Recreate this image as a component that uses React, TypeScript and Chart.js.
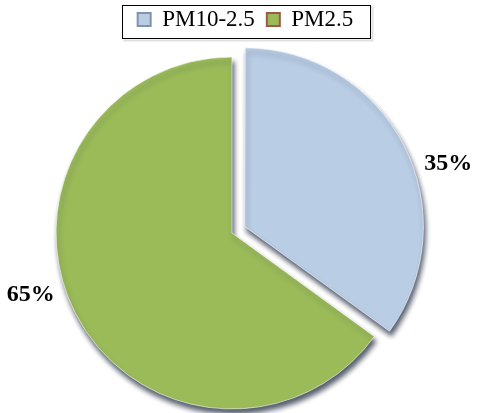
import React, { useEffect, useRef } from "react";
import { Chart, registerables } from "chart.js";
Chart.register(...registerables);

const categories = ["PM10-2.5", "PM2.5"];
const shares = [35, 65];
const percentLabels = ["35%", "65%"];

const fillColors = ["#B9CDE5", "#9BBB59"];
const markerBorders = ["#7F93AE", "#9C5A4C"];
const explode = [57, 0];

const SERIF = "'Liberation Serif', 'Times New Roman', serif";
const PIE_CENTER_X = 232;
const PIE_CENTER_Y = 233;

// Chart.js v4 arc: effective translation of an exploded slice
function arcShift(offset: number, circumference: number) {
  const o = (offset || 0) / 4;
  const fix = 1 - Math.sin(Math.min(Math.PI, circumference || 0));
  return o + o * fix;
}

export default function App() {
  const ref = useRef<HTMLCanvasElement>(null);

  useEffect(() => {
    let chart: any = null;
    let cancelled = false;

    const centerPlugin = {
      id: "pieCenter",
      afterLayout(c: any) {
        const a = c.chartArea;
        const w = a.right - a.left;
        const h = a.bottom - a.top;
        a.left = PIE_CENTER_X - w / 2;
        a.right = PIE_CENTER_X + w / 2;
        a.top = PIE_CENTER_Y - h / 2;
        a.bottom = PIE_CENTER_Y + h / 2;
      },
    };

    const shadowPlugin = {
      id: "sliceShadow",
      beforeDatasetsDraw(c: any) {
        const ctx = c.ctx;
        ctx.save();
        ctx.shadowColor = "rgba(30,40,60,0.75)";
        ctx.shadowOffsetX = 2;
        ctx.shadowOffsetY = 5;
        ctx.shadowBlur = 5;
      },
      afterDatasetsDraw(c: any) {
        c.ctx.restore();
      },
    };

    const labelPlugin = {
      id: "pctLabels",
      afterDatasetsDraw(c: any) {
        const ctx = c.ctx;
        const meta = c.getDatasetMeta(0);
        ctx.save();
        ctx.font = `bold 24px ${SERIF}`;
        ctx.fillStyle = "#000";
        ctx.textAlign = "center";
        ctx.textBaseline = "middle";
        meta.data.forEach((arc: any, i: number) => {
          const p = arc.getProps(["x", "y", "startAngle", "endAngle", "outerRadius", "circumference"], true);
          const mid = (p.startAngle + p.endAngle) / 2;
          const sh = arcShift(arc.options.offset, p.circumference);
          const cx = p.x + Math.cos(mid) * sh;
          const cy = p.y + Math.sin(mid) * sh;
          const a = mid + (10 * Math.PI) / 180;
          const d = p.outerRadius * 1.19 + 1;
          ctx.fillText(percentLabels[i], cx + Math.cos(a) * d, cy + Math.sin(a) * d);
        });
        ctx.restore();
      },
    };

    const legendBoxPlugin = {
      id: "legendBox",
      afterDraw(c: any) {
        const boxes = c.legend?.legendHitBoxes;
        if (!boxes || !boxes.length) return;
        const first = boxes[0];
        const last = boxes[boxes.length - 1];
        const l = Math.round(first.left - 16) + 0.5;
        const r = Math.round(last.left + last.width + 17) + 0.5;
        const t = Math.round(first.top - 3) + 0.5;
        const b = Math.round(first.top + first.height + 7) + 0.5;
        const ctx = c.ctx;
        ctx.save();
        ctx.strokeStyle = "rgba(0,0,0,0.12)";
        ctx.lineWidth = 2;
        ctx.strokeRect(l + 2, t + 2, r - l, b - t);
        ctx.strokeStyle = "#000";
        ctx.lineWidth = 1;
        ctx.fillStyle = "#fff";
        ctx.fillRect(l, t, r - l, b - t);
        ctx.strokeRect(l, t, r - l, b - t);
        ctx.restore();
        c.legend.draw();
      },
    };

    const build = () => {
      if (cancelled || !ref.current) return;
      chart = new Chart(ref.current, {
        type: "pie",
        data: {
          labels: categories,
          datasets: [
            {
              data: shares,
              backgroundColor: fillColors,
              borderColor: "rgba(255,255,255,0.6)",
              borderWidth: 1,
              offset: explode,
            },
          ],
        },
        options: {
          animation: false,
          responsive: false,
          radius: 176,
          layout: { padding: { top: -4, right: 0, bottom: 0, left: 14 } },
          plugins: {
            legend: {
              display: true,
              position: "top",
              labels: {
                boxWidth: 13,
                boxHeight: 13,
                padding: 12,
                color: "#000",
                font: { family: SERIF, size: 23 },
                generateLabels: () =>
                  categories.map((cat, i) => ({
                    text: cat,
                    fillStyle: fillColors[i],
                    strokeStyle: markerBorders[i],
                    lineWidth: 2,
                    hidden: false,
                    index: i,
                    datasetIndex: 0,
                  })),
              },
            },
            tooltip: { enabled: false },
          },
        },
        plugins: [centerPlugin, shadowPlugin, labelPlugin, legendBoxPlugin],
      });
    };

    const fontsApi = (document as any).fonts;
    if (fontsApi && fontsApi.load) {
      Promise.all([
        fontsApi.load(`23px "Liberation Serif"`),
        fontsApi.load(`bold 24px "Liberation Serif"`),
      ])
        .catch(() => null)
        .then(build);
    } else {
      build();
    }

    return () => {
      cancelled = true;
      if (chart) chart.destroy();
    };
  }, []);

  return (
    <div style={{ position: "fixed", left: 0, top: 0, width: 477, height: 413, background: "#fff" }}>
      <canvas ref={ref} width={477} height={413} style={{ display: "block", width: 477, height: 413 }} />
    </div>
  );
}
